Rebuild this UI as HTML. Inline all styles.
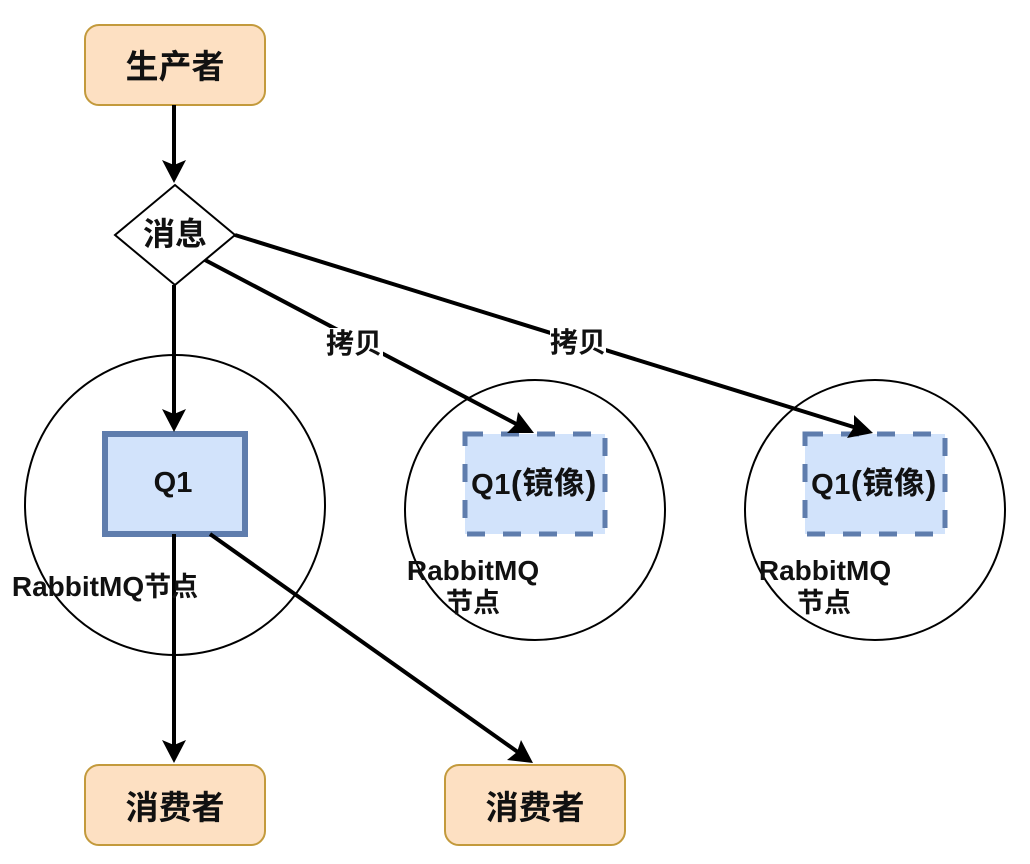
<!DOCTYPE html>
<html>
<head>
<meta charset="utf-8">
<style>
html,body{margin:0;padding:0;background:#fff;width:1030px;height:864px;overflow:hidden}
svg{display:block}
text{font-family:"Liberation Sans","Noto Sans CJK SC",sans-serif;font-weight:bold;fill:#111;text-anchor:middle}
</style>
</head>
<body>
<svg width="1030" height="864" viewBox="0 0 1030 864" xmlns="http://www.w3.org/2000/svg">
<rect width="1030" height="864" fill="#fff"/>
<!-- circles -->
<circle cx="175" cy="505" r="150" fill="none" stroke="#000" stroke-width="2"/>
<circle cx="535" cy="510" r="130" fill="none" stroke="#000" stroke-width="2"/>
<circle cx="875" cy="510" r="130" fill="none" stroke="#000" stroke-width="2"/>
<!-- boxes -->
<rect x="85" y="25" width="180" height="80" rx="14" fill="#fde0c2" stroke="#c39a3c" stroke-width="2"/>
<rect x="85" y="765" width="180" height="80" rx="14" fill="#fde0c2" stroke="#c39a3c" stroke-width="2"/>
<rect x="445" y="765" width="180" height="80" rx="14" fill="#fde0c2" stroke="#c39a3c" stroke-width="2"/>
<polygon points="175,185 235,235 175,285 115,235" fill="#fff" stroke="#000" stroke-width="2"/>
<rect x="105" y="434" width="140" height="100" fill="#d2e3fb" stroke="#5f7dad" stroke-width="6"/>
<rect x="465" y="434" width="140" height="100" fill="#d2e3fb" stroke="#5f7dad" stroke-width="5" stroke-dasharray="18 18"/>
<rect x="805" y="434" width="140" height="100" fill="#d2e3fb" stroke="#5f7dad" stroke-width="5" stroke-dasharray="18 18"/>
<!-- connectors -->
<g stroke="#000" stroke-width="4" fill="none">
<line x1="174" y1="105" x2="174" y2="170"/>
<line x1="174" y1="285" x2="174" y2="419"/>
<line x1="174" y1="534" x2="174" y2="750"/>
<line x1="205" y1="260" x2="522" y2="427"/>
<line x1="235" y1="235" x2="860" y2="429"/>
<line x1="210" y1="534" x2="522" y2="755"/>
</g>
<g fill="#000">
<polygon points="174,183 162,160 174,165 186,160"/>
<polygon points="174,432 162,409 174,414 186,409"/>
<polygon points="174,763 162,740 174,745 186,740"/>
<polygon points="534,433 518,412 516,424 507,433"/>
<polygon points="873,433 854,415 854,427 847,438"/>
<polygon points="533,763 521,740 517,752 507,760"/>
</g>
<!-- edge labels -->
<rect x="327" y="328" width="56" height="29" fill="#fff"/>
<rect x="550" y="327" width="56" height="29" fill="#fff"/>
<text x="354" y="353" font-size="28">拷贝</text>
<text x="578" y="352" font-size="28">拷贝</text>
<!-- node labels -->
<text x="175" y="78" font-size="33">生产者</text>
<text x="175" y="245" font-size="32">消息</text>
<text x="173" y="492" font-size="29">Q1</text>
<text x="534" y="494" font-size="29" letter-spacing="0.5">Q1<tspan font-size="33">(</tspan><tspan font-size="31">镜像</tspan><tspan font-size="33">)</tspan></text>
<text x="874" y="494" font-size="29" letter-spacing="0.5">Q1<tspan font-size="33">(</tspan><tspan font-size="31">镜像</tspan><tspan font-size="33">)</tspan></text>
<text x="105" y="596" font-size="28">RabbitMQ<tspan font-size="27">节点</tspan></text>
<text x="473" y="580" font-size="28">RabbitMQ</text>
<text x="473" y="612" font-size="27">节点</text>
<text x="825" y="580" font-size="28">RabbitMQ</text>
<text x="824" y="612" font-size="27">节点</text>
<text x="175" y="819" font-size="33">消费者</text>
<text x="535" y="819" font-size="33">消费者</text>
</svg>
</body>
</html>
